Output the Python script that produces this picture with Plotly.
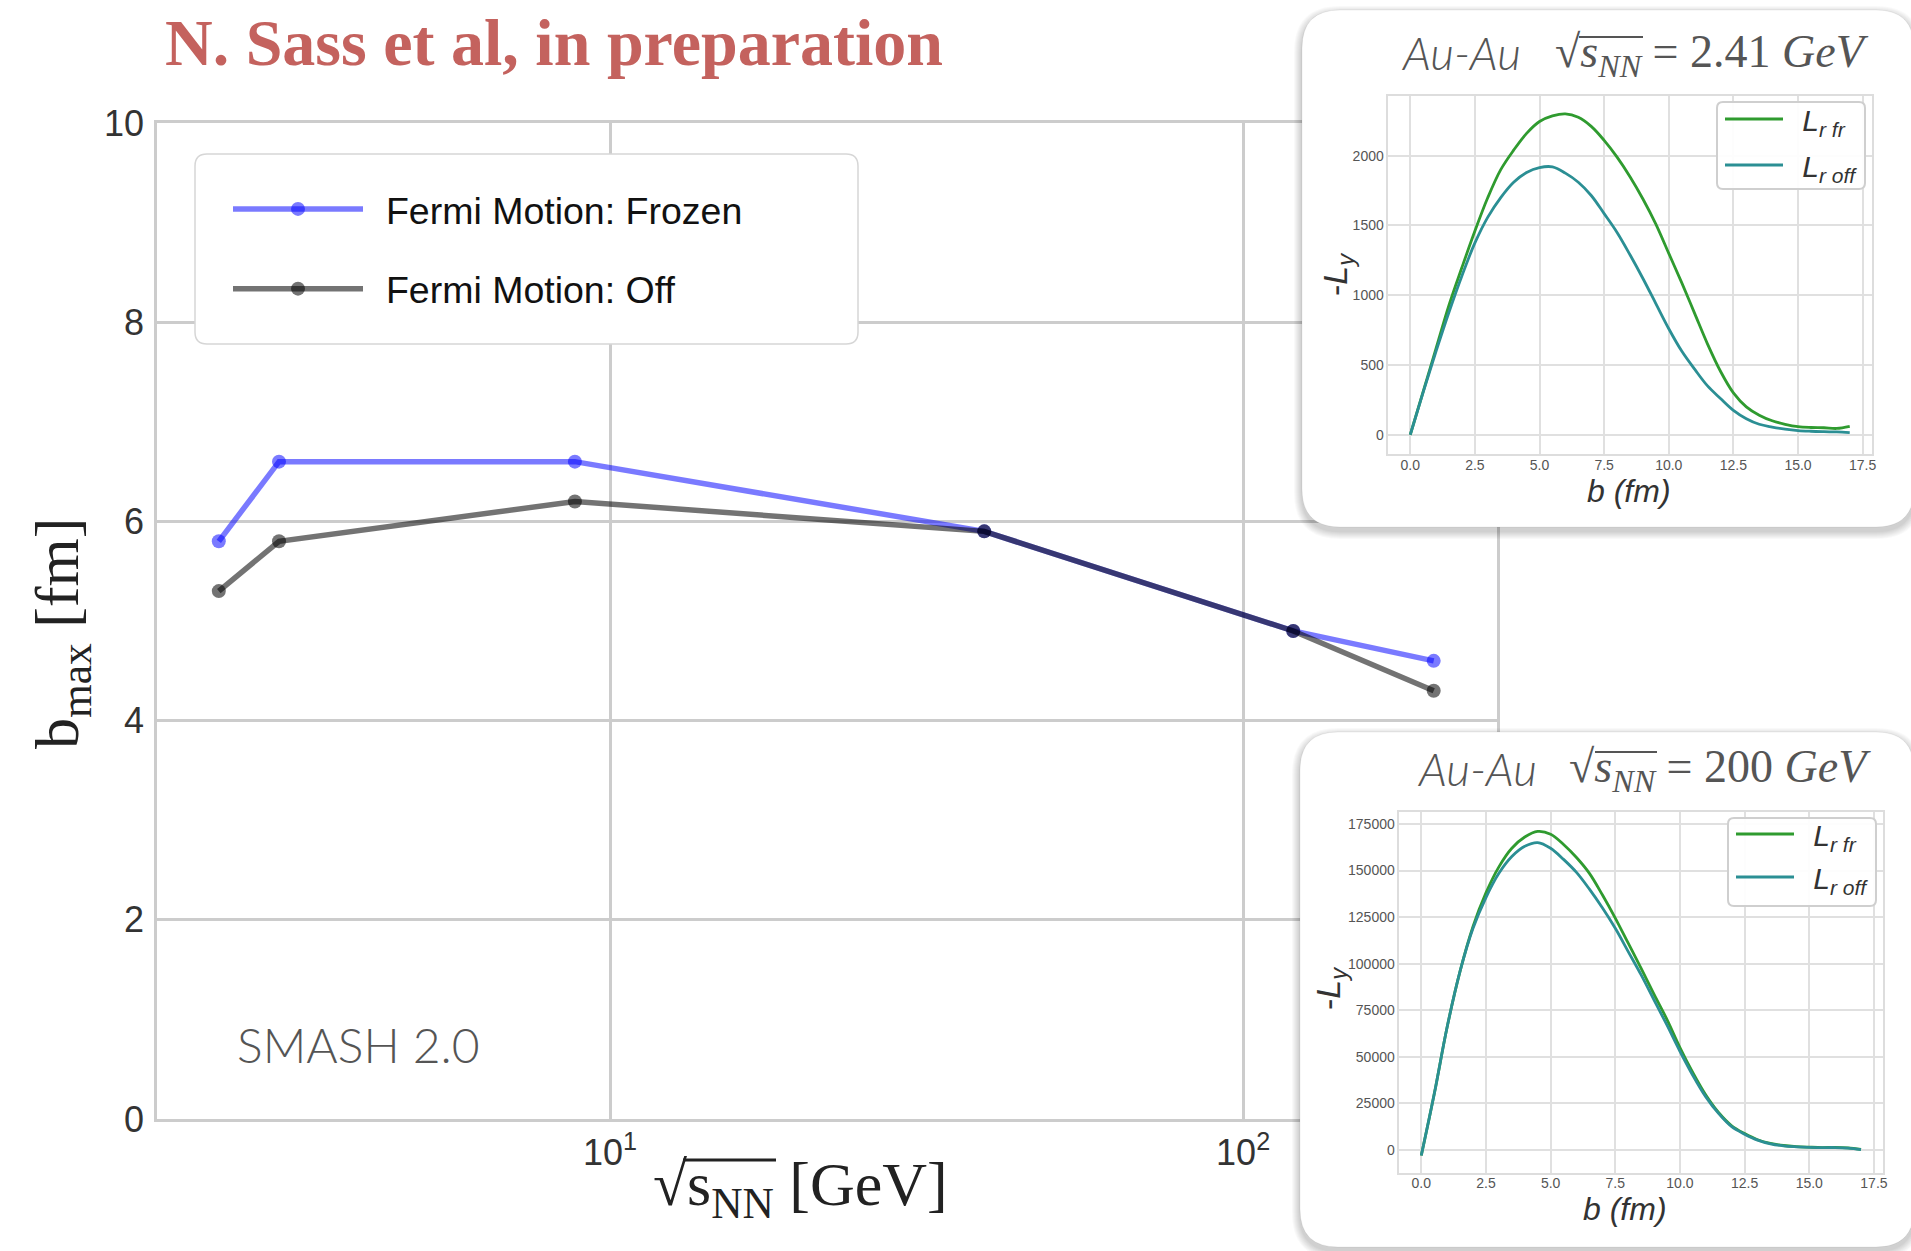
import plotly.graph_objects as go

W, H = 1911, 1251

# ---------------- data ----------------
energies = [2.41, 3.0, 8.8, 39, 120, 200]
bmax_frozen = [5.8, 6.6, 6.6, 5.9, 4.9, 4.6]
bmax_off = [5.3, 5.8, 6.2, 5.9, 4.9, 4.3]

b_fm = [0.0, 0.5, 1.0, 1.5, 2.0, 2.5, 3.0, 3.5, 4.0, 4.5, 5.0, 5.5, 6.0, 6.5, 7.0, 7.5,
        8.0, 8.5, 9.0, 9.5, 10.0, 10.5, 11.0, 11.5, 12.0, 12.5, 13.0, 13.5, 14.0, 14.5,
        15.0, 15.5, 16.0, 16.5, 17.0]
ly_fr_241 = [0, 310, 620, 930, 1200, 1460, 1700, 1900, 2040, 2160, 2245, 2285, 2300, 2275,
             2210, 2110, 1990, 1850, 1690, 1510, 1300, 1090, 870, 650, 455, 300, 200, 140,
             100, 75, 58, 52, 50, 45, 60]
ly_off_241 = [0, 305, 600, 880, 1140, 1375, 1560, 1700, 1810, 1880, 1915, 1920, 1875, 1810,
              1715, 1585, 1450, 1290, 1120, 940, 760, 600, 470, 350, 260, 175, 115, 75, 55,
              40, 30, 25, 22, 20, 15]
ly_fr_200 = [-3000, 30000, 66000, 96000, 120000, 138000, 152000, 162000, 168000, 171000,
             169500, 164000, 157000, 148500, 137000, 124500, 111000, 97500, 83500, 70000,
             55000, 41500, 29500, 20000, 13000, 8800, 5500, 3500, 2400, 1800, 1500, 1300,
             1400, 1100, 300]
ly_off_200 = [-3000, 30000, 66000, 96000, 119000, 135500, 148500, 157500, 163000, 165000,
              162000, 156000, 149000, 140000, 130000, 119000, 106500, 94000, 80500, 67000,
              53000, 40000, 28500, 19500, 12500, 8500, 5300, 3300, 2200, 1700, 1400, 1300,
              1300, 1000, 200]

main_yticks = [0, 2, 4, 6, 8, 10]
main_xticks = [10, 100]
main_xticktext = ["10<sup>1</sup>", "10<sup>2</sup>"]
inset_xticks = [0.0, 2.5, 5.0, 7.5, 10.0, 12.5, 15.0, 17.5]
inset1_yticks = [0, 500, 1000, 1500, 2000]
inset2_yticks = [0, 25000, 50000, 75000, 100000, 125000, 150000, 175000]


def px(x):
    return x / W


def py(y):
    return 1 - y / H


def rrect(x0, y0, x1, y1, r, conv=None):
    f = conv if conv is not None else (lambda x, y: (x, y))

    def P(x, y):
        a, b = f(x, y)
        return f"{a:.6f},{b:.6f}"
    return (f"M{P(x0 + r, y0)} L{P(x1 - r, y0)} Q{P(x1, y0)} {P(x1, y0 + r)} "
            f"L{P(x1, y1 - r)} Q{P(x1, y1)} {P(x1 - r, y1)} L{P(x0 + r, y1)} "
            f"Q{P(x0, y1)} {P(x0, y1 - r)} L{P(x0, y0 + r)} Q{P(x0, y0)} {P(x0 + r, y0)} Z")


paperconv = lambda x, y: (px(x), py(y))
pad = "\u00a0\u2009"

fig = go.Figure()

# ---------------- main plot ----------------
fig.add_trace(go.Scatter(
    x=energies, y=bmax_frozen, mode="lines+markers", name=pad + "Fermi Motion: Frozen",
    line=dict(color="rgba(0,0,255,0.52)", width=5.5),
    marker=dict(color="rgba(0,0,255,0.52)", size=14),
    xaxis="x", yaxis="y", legend="legend", legendgroup="a"))
fig.add_trace(go.Scatter(
    x=energies, y=bmax_off, mode="lines+markers", name=pad + "Fermi Motion: Off",
    line=dict(color="rgba(0,0,0,0.55)", width=5.5),
    marker=dict(color="rgba(0,0,0,0.55)", size=14),
    xaxis="x", yaxis="y", legend="legend", legendgroup="b"))

# empty card subplots (hold card backgrounds above main plot)
fig.add_trace(go.Scatter(x=[], y=[], xaxis="x2", yaxis="y2", showlegend=False))
fig.add_trace(go.Scatter(x=[], y=[], xaxis="x3", yaxis="y3", showlegend=False))

green = "#2f9b2f"
teal = "#2b8f94"
lw = 2.8

# inset 1
fig.add_trace(go.Scatter(x=b_fm, y=ly_fr_241, mode="lines", line=dict(color=green, width=lw, shape="spline"),
                         name=pad + "<i>L</i><sub><i>r fr</i></sub>", xaxis="x4", yaxis="y4",
                         legend="legend2", legendgroup="c1"))
fig.add_trace(go.Scatter(x=b_fm, y=ly_off_241, mode="lines", line=dict(color=teal, width=lw, shape="spline"),
                         name=pad + "<i>L</i><sub><i>r off</i></sub>", xaxis="x4", yaxis="y4",
                         legend="legend2", legendgroup="c2"))
# inset 2
fig.add_trace(go.Scatter(x=b_fm, y=ly_fr_200, mode="lines", line=dict(color=green, width=lw, shape="spline"),
                         name=pad + "<i>L</i><sub><i>r fr</i></sub>", xaxis="x5", yaxis="y5",
                         legend="legend3", legendgroup="d1"))
fig.add_trace(go.Scatter(x=b_fm, y=ly_off_200, mode="lines", line=dict(color=teal, width=lw, shape="spline"),
                         name=pad + "<i>L</i><sub><i>r off</i></sub>", xaxis="x5", yaxis="y5",
                         legend="legend3", legendgroup="d2"))

gridc = "#cccccc"
main_x0, main_x1, main_y0, main_y1 = 157, 1497, 123, 1119

layout = dict(
    template="none",
    width=W, height=H, margin=dict(l=0, r=0, t=0, b=0, pad=0, autoexpand=False),
    paper_bgcolor="white", plot_bgcolor="rgba(0,0,0,0)",
    showlegend=True,
    xaxis=dict(type="log", domain=[px(main_x0), px(main_x1)], range=[0.2844, 2.401],
               tickvals=main_xticks, ticktext=main_xticktext, showgrid=True, gridcolor=gridc,
               gridwidth=2.5, showline=True, linecolor=gridc, linewidth=2.5, mirror=True,
               zeroline=False, ticks="", ticklabelstandoff=0, automargin=False,
               tickfont=dict(family="Liberation Sans, Arial", size=36, color="#333333"),
               anchor="y"),
    yaxis=dict(domain=[py(main_y1), py(main_y0)], range=[0, 10], tickvals=main_yticks,
               showgrid=True, gridcolor=gridc, gridwidth=2.5, showline=True, linecolor=gridc,
               linewidth=2.5, mirror=True, zeroline=False, ticks="", ticklabelstandoff=3,
               automargin=False,
               tickfont=dict(family="Liberation Sans, Arial", size=36, color="#333333"),
               anchor="x"),
    # card holders
    xaxis2=dict(domain=[px(1278), 1], range=[1278, 1911], visible=False, anchor="y2"),
    yaxis2=dict(domain=[py(552), 1], range=[552, 0], visible=False, anchor="x2"),
    xaxis3=dict(domain=[px(1276), 1], range=[1276, 1911], visible=False, anchor="y3"),
    yaxis3=dict(domain=[0, py(706)], range=[1251, 706], visible=False, anchor="x3"),
)

inset_common_x = dict(range=[-0.85, 17.85], tickvals=inset_xticks, tickformat=".1f",
                      showgrid=True, gridcolor="#e0e0e0", gridwidth=1.5, showline=True,
                      linecolor="#dddddd", linewidth=1.5, mirror=True, zeroline=False, ticks="",
                      ticklabelstandoff=-3, automargin=False,
                      tickfont=dict(family="Liberation Sans, Arial", size=14, color="#555555"))
inset_common_y = dict(showgrid=True, gridcolor="#e0e0e0", gridwidth=1.5, showline=True,
                      linecolor="#dddddd", linewidth=1.5, mirror=True, zeroline=False, ticks="",
                      ticklabelstandoff=0, tickformat="d", automargin=False,
                      tickfont=dict(family="Liberation Sans, Arial", size=14, color="#555555"))

layout["xaxis4"] = dict(domain=[px(1388.3), px(1871.7)], anchor="y4", **inset_common_x)
layout["yaxis4"] = dict(domain=[py(454), py(96)], range=[-138, 2428], tickvals=inset1_yticks,
                        anchor="x4", **inset_common_y)
layout["xaxis5"] = dict(domain=[px(1399.3), px(1883)], anchor="y5", **inset_common_x)
layout["yaxis5"] = dict(domain=[py(1172.7), py(811.7)], range=[-12200, 181600],
                        tickvals=inset2_yticks, anchor="x5", **inset_common_y)

layout["legend"] = dict(x=px(228), y=py(178), xanchor="left", yanchor="top",
                        bgcolor="rgba(0,0,0,0)", borderwidth=0, itemwidth=130,
                        traceorder="grouped", tracegroupgap=28,
                        font=dict(family="Liberation Sans, Arial", size=37.5, color="#111111"))
layout["legend2"] = dict(x=px(1720), y=py(93), xanchor="left", yanchor="top",
                         bgcolor="rgba(0,0,0,0)", borderwidth=0, itemwidth=58,
                         traceorder="grouped", tracegroupgap=4,
                         font=dict(family="Liberation Sans, Arial", size=30, color="#333333"))
layout["legend3"] = dict(x=px(1731), y=py(808), xanchor="left", yanchor="top",
                         bgcolor="rgba(0,0,0,0)", borderwidth=0, itemwidth=58,
                         traceorder="grouped", tracegroupgap=1,
                         font=dict(family="Liberation Sans, Arial", size=30, color="#333333"))

fig.update_layout(**layout)

# ---------------- shapes ----------------
shapes = []
cards = [("x2", "y2", (1302, 10, 1914, 527)), ("x3", "y3", (1300, 732, 1914, 1247))]
for xr, yr, (x0, y0, x1, y1) in cards:
    for e in range(8, 0, -1):
        shapes.append(dict(type="path", xref=xr, yref=yr, layer="below",
                           path=rrect(x0 - e, y0 - e + 4, x1 + e, y1 + e + 4, 38 + e),
                           fillcolor="rgba(0,0,0,0.022)", line=dict(width=0)))
    shapes.append(dict(type="path", xref=xr, yref=yr, layer="below",
                       path=rrect(x0, y0, x1, y1, 38), fillcolor="white",
                       line=dict(color="rgba(0,0,0,0.06)", width=1)))

# legend boxes
shapes.append(dict(type="path", xref="paper", yref="paper", layer="above",
                   path=rrect(195, 154, 858, 344, 12, paperconv), fillcolor="white",
                   line=dict(color="#d6d6d6", width=1.5)))
shapes.append(dict(type="path", xref="paper", yref="paper", layer="above",
                   path=rrect(1717, 102, 1865, 189, 6, paperconv), fillcolor="rgba(255,255,255,0.92)",
                   line=dict(color="#cfcfcf", width=2)))
shapes.append(dict(type="path", xref="paper", yref="paper", layer="above",
                   path=rrect(1728, 818, 1876, 906, 6, paperconv), fillcolor="rgba(255,255,255,0.92)",
                   line=dict(color="#cfcfcf", width=2)))

# radical overbars (vinculum) for the sqrt(s_NN) labels
for (xa, xb, yv, c, wdt) in [(683, 776, 1160, "#222222", 3),
                             (1579, 1643, 37, "#555555", 2.2),
                             (1595, 1657, 752, "#555555", 2.2)]:
    shapes.append(dict(type="line", xref="paper", yref="paper", layer="above",
                       x0=px(xa), x1=px(xb), y0=py(yv), y1=py(yv),
                       line=dict(color=c, width=wdt)))
fig.update_layout(shapes=shapes)

# ---------------- annotations ----------------
ann = []
ann.append(dict(text="<b>N. Sass et al, in preparation</b>", x=px(163), y=py(43), xref="paper",
                yref="paper", xanchor="left", yanchor="middle", showarrow=False,
                font=dict(family="Liberation Serif, Times New Roman", size=66, color="#C4625E")))
ann.append(dict(text="b<sub>max</sub> [fm]", x=px(61), y=py(634), xref="paper", yref="paper",
                xanchor="center", yanchor="middle", textangle=-90, showarrow=False,
                font=dict(family="Liberation Serif, Times New Roman", size=62, color="#222222")))
ann.append(dict(text="√s<sub>NN</sub> [GeV]",
                x=px(800), y=py(1188), xref="paper", yref="paper", xanchor="center",
                yanchor="middle", showarrow=False,
                font=dict(family="Liberation Serif, Times New Roman", size=62, color="#222222")))
ann.append(dict(text="SMASH 2.0", x=px(235), y=py(1044), xref="paper", yref="paper",
                xanchor="left", yanchor="middle", showarrow=False,
                font=dict(family="Lato", size=48, weight=300, color="#555555")))

for (aux, fx, ty, fy, en, lx, ly, bx, by) in [
        (1399, 1553, 52, 55, "2.41", 1337, 274, 1629, 491),
        (1415, 1567, 768, 770, "200", 1330, 988, 1625, 1209)]:
    ann.append(dict(text="Au-Au", x=px(aux), y=py(ty), xref="paper", yref="paper",
                    xanchor="left", yanchor="middle", showarrow=False,
                    font=dict(family="Lato", size=46, weight=300, style="italic", color="#555555")))
    ann.append(dict(text="√<i>s</i><sub><i>NN</i></sub> = " + en + " <i>GeV</i>",
                    x=px(fx), y=py(fy), xref="paper", yref="paper", xanchor="left",
                    yanchor="middle", showarrow=False,
                    font=dict(family="Liberation Serif, Times New Roman", size=46, color="#555555")))
    ann.append(dict(text="-<i>L</i><sub><i>y</i></sub>", x=px(lx), y=py(ly), xref="paper",
                    yref="paper", xanchor="center", yanchor="middle", textangle=-90,
                    showarrow=False,
                    font=dict(family="Liberation Sans, Arial", size=34, color="#333333")))
    ann.append(dict(text="<i>b (fm)</i>", x=px(bx), y=py(by), xref="paper", yref="paper",
                    xanchor="center", yanchor="middle", showarrow=False,
                    font=dict(family="Liberation Sans, Arial", size=32, color="#333333")))
fig.update_layout(annotations=ann)

fig.write_html("out.html", config={"displayModeBar": False},
               post_script="document.body.style.margin='0px';")
